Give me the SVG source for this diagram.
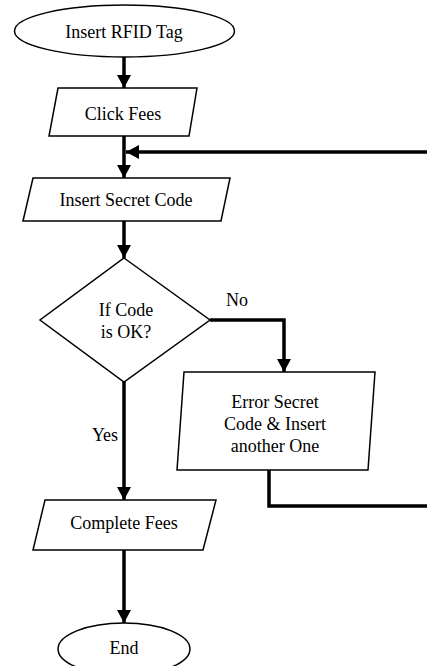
<svg xmlns="http://www.w3.org/2000/svg" width="427" height="666" viewBox="0 0 427 666">
<style>
.shape{fill:#fff;stroke:#000;stroke-width:1.5}
.t{font-family:"Liberation Serif","Times New Roman",serif;font-size:18px;fill:#000;text-anchor:middle}
.c{fill:none;stroke:#000;stroke-width:3.5}
</style>
<defs>
<marker id="ah" markerUnits="userSpaceOnUse" markerWidth="14" markerHeight="14" viewBox="0 0 14 14" refX="13" refY="7" orient="auto">
<path d="M0,0 L13,7 L0,14 Z" fill="#000"/>
</marker>
</defs>
<rect width="427" height="666" fill="#fff"/>
<g id="connectors">
<line class="c" x1="124" y1="57" x2="124" y2="88" marker-end="url(#ah)"/>
<line class="c" x1="124" y1="136" x2="124" y2="178" marker-end="url(#ah)"/>
<line class="c" x1="427" y1="152" x2="126" y2="152" marker-end="url(#ah)"/>
<line class="c" x1="124" y1="221" x2="124" y2="258" marker-end="url(#ah)"/>
<polyline class="c" points="210,320 284,320 284,372" marker-end="url(#ah)"/>
<line class="c" x1="124" y1="382" x2="124" y2="500" marker-end="url(#ah)"/>
<polyline class="c" points="269,470 269,506 427,506"/>
<line class="c" x1="124" y1="550" x2="124" y2="623" marker-end="url(#ah)"/>
<text class="t" x="237" y="306">No</text>
<text class="t" x="105" y="441">Yes</text>
</g>
<g id="start">
<ellipse class="shape" cx="124.5" cy="31" rx="110" ry="26"/>
<text class="t" x="124" y="38">Insert RFID Tag</text>
</g>
<g id="click-fees">
<polygon class="shape" points="58,88 197,88 189,136 49,136"/>
<text class="t" x="123" y="120">Click Fees</text>
</g>
<g id="insert-code">
<polygon class="shape" points="33,178 230,178 221,221 23,221"/>
<text class="t" x="126" y="206">Insert Secret Code</text>
</g>
<g id="decision">
<polygon class="shape" points="124,258 210,320 124,382 40,320"/>
<text class="t" x="126" y="316">If Code</text>
<text class="t" x="126" y="338">is OK?</text>
</g>
<g id="error">
<polygon class="shape" points="184,372 375,372 368,470 177,470"/>
<text class="t" x="275" y="408">Error Secret</text>
<text class="t" x="275" y="430">Code &amp; Insert</text>
<text class="t" x="275" y="452">another One</text>
</g>
<g id="complete-fees">
<polygon class="shape" points="45,500 216,500 203,550 33,550"/>
<text class="t" x="124" y="529">Complete Fees</text>
</g>
<g id="end">
<ellipse class="shape" cx="124" cy="649" rx="66" ry="26"/>
<text class="t" x="124" y="654">End</text>
</g>
</svg>
